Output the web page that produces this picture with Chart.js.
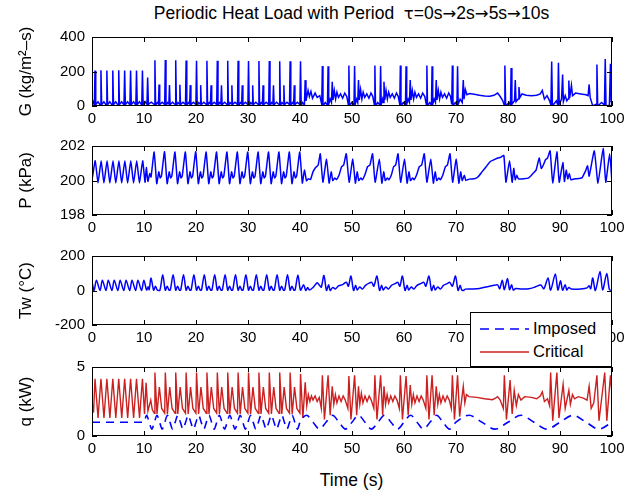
<!DOCTYPE html>
<html>
<head>
<meta charset="utf-8">
<script src="https://cdn.jsdelivr.net/npm/chart.js@4.4.1/dist/chart.umd.min.js"></script>
<style>
  body { margin: 0; width: 640px; height: 496px; background: #fff; overflow: hidden; position: relative;
         font-family: "Liberation Sans", Arial, sans-serif; }
  canvas { position: absolute; left: 0; }
  #title { position: absolute; left: 72px; width: 559px; top: 3px; text-align: center; font-size: 17.5px; color: #000; white-space: nowrap; }
  #title .sym { font-family: "DejaVu Sans", sans-serif; font-size: 16.5px; }
  #xlabel { position: absolute; left: 92px; width: 519px; top: 470px; text-align: center; font-size: 17.5px; color: #000; }
  #legend { position: absolute; left: 470px; top: 312px; width: 140px; height: 53px; border: 1px solid #000;
            background: #fff; z-index: 5; font-size: 16.5px; }
  .row { position: absolute; left: 0; height: 20px; }
  .row svg { position: absolute; left: 9px; top: 4px; }
  .row span { position: absolute; left: 62px; top: 0; white-space: nowrap; }
</style>
</head>
<body>
<div id="title">Periodic Heat Load with Period&nbsp; <span class="sym">τ</span>=0s<span class="sym">→</span>2s<span class="sym">→</span>5s<span class="sym">→</span>10s</div>
<canvas id="gChart" width="640" height="109" style="top:21px"></canvas>
<canvas id="pChart" width="640" height="109" style="top:130px"></canvas>
<canvas id="twChart" width="640" height="109" style="top:240px"></canvas>
<canvas id="qChart" width="640" height="109" style="top:351px"></canvas>
<div id="legend">
  <div class="row" style="top:6px">
    <svg width="50" height="12"><line x1="0" y1="6" x2="49" y2="6" stroke="#0000ff" stroke-width="1.5" stroke-dasharray="9,6"/></svg>
    <span>Imposed</span>
  </div>
  <div class="row" style="top:29px">
    <svg width="50" height="12"><line x1="0" y1="6" x2="49" y2="6" stroke="#cc2020" stroke-width="1.5"/></svg>
    <span>Critical</span>
  </div>
</div>
<div id="xlabel">Time (s)</div>
<script>
// tick labels
const xTicks = [0, 10, 20, 30, 40, 50, 60, 70, 80, 90, 100];
const gTicks = [0, 200, 400];
const pTicks = [198, 200, 202];
const twTicks = [-200, 0, 200];
const qTicks = [0, 5];

// mass flux G (kg/m2-s), [time, value]
const gFlux = [
  [0,40],[0.45,5],[0.58,205],[0.72,8],[1.15,25],
  [1.59,5],[1.72,207],[1.86,8],[2.29,25],
  [2.73,5],[2.86,206],[3.0,8],[3.43,25],
  [3.87,5],[4.0,206],[4.14,8],[4.57,25],
  [5.01,5],[5.14,207],[5.28,8],[5.71,25],
  [6.15,5],[6.28,206],[6.42,8],[6.85,25],
  [7.29,5],[7.42,206],[7.56,8],[7.99,25],
  [8.43,5],[8.56,206],[8.7,8],[9.13,25],
  [9.57,5],[9.7,206],[9.84,8],[10.2,25],
  [10.57,10],[10.7,165],[10.85,10],[11.4,22],
  [11.98,8],[12.1,265],[12.23,3],[12.55,20],[12.78,12],[12.9,125],[13.02,8],[13.5,22],
  [13.98,8],[14.1,266],[14.23,3],[14.55,20],[14.78,12],[14.9,122],[15.02,8],[15.5,22],
  [15.98,8],[16.1,265],[16.23,3],[16.55,20],[16.78,12],[16.9,123],[17.02,8],[17.5,22],
  [17.98,8],[18.1,264],[18.23,3],[18.55,20],[18.78,12],[18.9,121],[19.02,8],[19.5,22],
  [19.98,8],[20.1,262],[20.23,3],[20.55,20],[20.78,12],[20.9,121],[21.02,8],[21.5,22],
  [21.98,8],[22.1,262],[22.23,3],[22.55,20],[22.78,12],[22.9,120],[23.02,8],[23.5,22],
  [23.98,8],[24.1,262],[24.23,3],[24.55,20],[24.78,12],[24.9,120],[25.02,8],[25.5,22],
  [25.98,8],[26.1,262],[26.23,3],[26.55,20],[26.78,12],[26.9,120],[27.02,8],[27.5,22],
  [27.98,8],[28.1,262],[28.23,3],[28.55,20],[28.78,12],[28.9,120],[29.02,8],[29.5,22],
  [29.98,8],[30.1,261],[30.23,3],[30.55,20],[30.78,12],[30.9,120],[31.02,8],[31.5,22],
  [31.98,8],[32.1,261],[32.23,3],[32.55,20],[32.78,12],[32.9,120],[33.02,8],[33.5,22],
  [33.98,8],[34.1,261],[34.23,3],[34.55,20],[34.78,12],[34.9,120],[35.02,8],[35.5,22],
  [35.98,8],[36.1,260],[36.23,3],[36.55,20],[36.78,12],[36.9,120],[37.02,8],[37.5,22],
  [37.98,8],[38.1,260],[38.23,3],[38.55,20],[38.78,12],[38.9,120],[39.02,8],[39.5,22],
  [39.98,8],[40.1,260],[40.23,3],[40.5,20],[40.85,5],[41.0,150],[41.15,30],[41.55,90],[41.8,55],[42.1,85],
  [42.4,45],[42.9,75],[43.3,50],[43.8,60],[44.18,10],
  [44.3,232],[44.42,0],[44.85,20],[45.28,5],[45.4,230],[45.52,10],[45.8,40],[46.05,20],[46.2,140],[46.35,35],
  [46.6,90],[46.85,40],[47.1,80],[47.4,50],[47.8,70],[48.2,45],[48.6,75],[49.0,55],[49.28,10],
  [49.4,235],[49.52,0],[49.95,20],[50.38,5],[50.5,232],[50.62,10],[50.9,40],[51.1,20],[51.25,150],[51.4,35],
  [51.65,95],[51.9,40],[52.15,80],[52.45,50],[52.85,70],[53.25,45],[53.65,75],[54.0,55],[54.28,10],
  [54.4,235],[54.52,0],[54.95,20],[55.38,5],[55.5,232],[55.62,10],[55.9,40],[56.0,20],[56.15,140],[56.3,35],
  [56.55,90],[56.8,40],[57.05,80],[57.35,50],[57.75,70],[58.15,45],[58.55,75],[58.9,55],[59.18,10],
  [59.3,235],[59.42,0],[59.85,20],[60.28,5],[60.4,230],[60.52,10],[60.8,40],[61.05,20],[61.2,150],[61.35,35],
  [61.6,90],[61.85,40],[62.1,80],[62.4,50],[62.8,70],[63.2,45],[63.6,75],[64.0,55],[64.28,10],
  [64.4,235],[64.52,0],[64.95,20],[65.28,5],[65.4,230],[65.52,10],[65.8,40],[66.05,20],[66.2,150],[66.35,35],
  [66.6,90],[66.85,40],[67.1,80],[67.4,50],[67.8,70],[68.2,45],[68.6,75],[68.95,55],[69.18,10],
  [69.3,235],[69.42,0],[69.85,20],[70.18,5],[70.3,230],[70.42,10],[70.8,40],[71.2,20],[71.4,150],[71.55,40],
  [71.8,95],[72.1,65],[72.6,72],[73.5,68],[74.5,62],[75.5,58],[76.5,57],[77.3,62],[78.0,75],[78.5,55],[79.0,30],[79.28,5],
  [79.4,235],[79.55,0],[80.2,20],[80.48,5],[80.6,220],[80.75,10],[81.25,30],[81.4,150],[81.55,25],[81.95,40],
  [82.1,110],[82.3,50],[82.7,70],[83.5,62],[84.5,60],[85.5,62],[86.2,70],[86.6,90],[87.0,40],[87.5,60],[88.0,30],[88.25,5],
  [88.4,258],[88.55,0],[89.3,30],[89.58,5],[89.7,250],[89.85,10],[90.3,40],[90.5,183],[90.65,25],[91.0,60],
  [91.3,30],[91.55,40],[91.7,148],[91.85,45],[92.2,120],[92.4,60],[93.0,75],[94.0,70],[95.0,65],[95.4,60],
  [95.6,125],[95.8,50],[96.3,0],[96.95,10],[97.1,240],[97.25,0],[98.0,20],[98.55,5],[98.7,272],[98.85,0],
  [99.5,5],[99.7,245],[99.85,20],[100,150]
];

// pressure P (kPa), [time, value]
const pressure = [
  [0,200.0],[0.62,201.15],[1.15,199.85],[1.76,201.15],[2.29,199.85],[2.9,201.15],[3.43,199.85],[4.04,201.15],
  [4.57,199.85],[5.18,201.15],[5.71,199.85],[6.32,201.15],[6.85,199.85],[7.46,201.15],[7.99,199.85],[8.6,201.15],
  [9.13,199.85],[9.74,201.15],[10.2,199.9],[10.45,200.75],[10.75,199.95],[11.1,200.4],[11.35,200.2],
  [11.95,201.65],[12.45,199.82],[12.85,200.5],[13.1,200.15],[13.35,200.25],
  [13.95,201.67],[14.45,199.82],[14.85,200.5],[15.1,200.15],[15.35,200.25],
  [15.95,201.65],[16.45,199.82],[16.85,200.5],[17.1,200.15],[17.35,200.25],
  [17.95,201.65],[18.45,199.82],[18.85,200.5],[19.1,200.15],[19.35,200.25],
  [19.95,201.67],[20.45,199.82],[20.85,200.5],[21.1,200.15],[21.35,200.25],
  [21.95,201.65],[22.45,199.82],[22.85,200.5],[23.1,200.15],[23.35,200.25],
  [23.95,201.65],[24.45,199.82],[24.85,200.5],[25.1,200.15],[25.35,200.25],
  [25.95,201.65],[26.45,199.82],[26.85,200.5],[27.1,200.15],[27.35,200.25],
  [27.95,201.65],[28.45,199.82],[28.85,200.5],[29.1,200.15],[29.35,200.25],
  [29.95,201.65],[30.45,199.82],[30.85,200.5],[31.1,200.15],[31.35,200.25],
  [31.95,201.65],[32.45,199.82],[32.85,200.5],[33.1,200.15],[33.35,200.25],
  [33.95,201.65],[34.45,199.82],[34.85,200.5],[35.1,200.15],[35.35,200.25],
  [35.95,201.65],[36.45,199.82],[36.85,200.5],[37.1,200.15],[37.35,200.25],
  [37.95,201.65],[38.45,199.82],[38.85,200.5],[39.1,200.15],[39.35,200.25],
  [39.95,201.65],[40.45,199.85],[40.85,200.6],[41.25,199.98],[41.6,200.1],[42.0,200.05],[42.5,200.5],[43.0,200.75],
  [43.5,200.9],[43.9,201.55],[44.4,199.9],[45.1,201.25],[45.6,199.85],[46.0,200.5],[46.3,200.0],[46.7,200.15],
  [47.0,200.05],[47.5,200.3],[48.0,200.8],[48.4,200.9],[48.9,201.55],[49.45,199.9],[50.15,201.25],[50.65,199.85],
  [51.0,200.5],[51.3,200.0],[51.7,200.15],[52.0,200.05],[52.5,200.35],[53.0,200.8],[53.45,200.9],[53.95,201.55],
  [54.45,199.9],[55.25,201.25],[55.75,199.85],[56.1,200.5],[56.4,200.0],[56.8,200.15],[57.1,200.05],[57.6,200.35],
  [58.0,200.8],[58.4,200.9],[58.85,201.55],[59.35,199.9],[60.1,201.25],[60.6,199.85],[60.95,200.5],[61.25,200.0],
  [61.65,200.15],[61.95,200.05],[62.45,200.35],[62.95,200.8],[63.4,200.9],[63.9,201.55],[64.4,199.9],[65.15,201.25],
  [65.65,199.85],[66.0,200.5],[66.3,200.0],[66.7,200.15],[67.0,200.05],[67.5,200.35],[67.95,200.8],[68.35,200.9],
  [68.85,201.55],[69.35,199.9],[70.05,201.25],[70.55,199.85],[70.9,200.5],[71.2,200.0],[71.6,200.3],[71.9,200.0],
  [72.5,200.08],[73.5,200.1],[74.2,200.2],[75.0,200.5],[75.8,200.8],[76.6,201.1],[77.3,201.2],[78.0,201.3],
  [78.6,201.35],[79.2,201.45],[79.6,199.9],[80.3,201.15],[80.8,199.9],[81.1,200.7],[81.4,200.05],[81.7,200.3],
  [82.0,200.1],[83.0,200.1],[84.0,200.15],[84.8,200.4],[85.4,200.6],[86.0,201.3],[86.4,200.7],[86.8,200.9],
  [87.2,201.2],[87.6,201.3],[88.1,201.72],[88.6,199.85],[89.4,201.67],[89.85,199.9],[90.55,201.05],[90.85,199.95],
  [91.2,200.6],[91.5,200.1],[91.8,200.4],[92.1,200.05],[93.0,200.1],[94.2,200.15],[94.9,200.55],[95.3,200.85],
  [95.6,200.25],[96.6,201.72],[97.3,199.85],[98.3,201.85],[98.8,199.9],[99.55,201.55],[100,199.9]
];

// wall temperature Tw (C), [time, value]
const wallTemp = [
  [0,50],[0.4,0],[0.85,60],[1.55,0],[1.99,60],[2.69,0],[3.13,60],[3.83,0],[4.27,60],[4.97,0],[5.41,60],
  [6.11,0],[6.55,60],[7.25,0],[7.69,60],[8.39,0],[8.83,60],[9.53,0],[9.97,60],[10.5,3],[10.8,22],[11.0,5],
  [11.35,73],[11.85,2],[12.2,25],[12.55,3],
  [13.05,2],[13.6,91],[14.1,2],[14.45,25],[14.8,3],
  [15.05,2],[15.6,91],[16.1,2],[16.45,25],[16.8,3],
  [17.05,2],[17.6,91],[18.1,2],[18.45,25],[18.8,3],
  [19.05,2],[19.6,91],[20.1,2],[20.45,25],[20.8,3],
  [21.05,2],[21.6,91],[22.1,2],[22.45,25],[22.8,3],
  [23.05,2],[23.6,91],[24.1,2],[24.45,25],[24.8,3],
  [25.05,2],[25.6,91],[26.1,2],[26.45,25],[26.8,3],
  [27.05,2],[27.6,91],[28.1,2],[28.45,25],[28.8,3],
  [29.05,2],[29.6,91],[30.1,2],[30.45,25],[30.8,3],
  [31.05,2],[31.6,91],[32.1,2],[32.45,25],[32.8,3],
  [33.05,2],[33.6,91],[34.1,2],[34.45,25],[34.8,3],
  [35.05,2],[35.6,91],[36.1,2],[36.45,25],[36.8,3],
  [37.05,2],[37.6,91],[38.1,2],[38.45,25],[38.8,3],
  [39.05,2],[39.6,90],[40.1,2],[40.7,34],[41.1,0],[41.5,17],[41.8,3],[42.5,17],[43.3,45],[43.7,32],[44.1,20],
  [44.6,87],[45.1,0],[45.5,34],[45.8,0],[46.3,18],[46.8,9],[47.4,27],[48.2,34],[48.9,48],[49.3,25],
  [49.8,84],[50.3,0],[50.7,30],[51.0,3],[51.5,20],[52.0,8],[52.6,30],[53.3,43],[53.8,47],[54.2,25],
  [54.8,84],[55.3,0],[55.7,30],[56.0,3],[56.5,20],[57.0,8],[57.6,30],[58.3,40],[58.8,47],[59.2,25],
  [59.7,84],[60.2,0],[60.6,30],[60.9,3],[61.4,20],[61.9,8],[62.5,30],[63.2,40],[63.8,47],[64.2,25],
  [64.8,84],[65.3,0],[65.7,30],[66.0,3],[66.5,20],[67.0,8],[67.6,30],[68.3,40],[68.8,47],[69.3,25],
  [69.9,84],[70.4,0],[70.8,30],[71.1,3],[71.4,0],[71.8,8],[73.0,9],[74.5,12],[76.0,22],[77.3,30],[78.0,32],
  [78.4,10],[78.9,60],[79.3,5],[79.9,69],[80.3,5],[80.7,34],[81.0,3],[81.5,12],[82.5,9],[84.0,10],[85.2,20],
  [86.3,32],[86.9,10],[87.7,73],[88.2,2],[89.1,96],[89.6,3],[90.1,56],[90.5,2],[91.0,34],[91.3,3],[91.7,17],
  [92.2,8],[94.0,9],[95.2,15],[95.6,28],[95.9,10],[96.3,73],[96.8,0],[97.7,110],[98.2,3],[99.0,99],[99.5,5],[100,0]
];

// critical heat load q (kW), [time, value]
const qCritical = [
  [0,2.5],[0.3,1.7],[0.58,4.15],[1.16,1.3],[1.72,4.15],[2.3,1.3],[2.86,4.15],[3.44,1.3],[4.0,4.15],[4.58,1.3],
  [5.14,4.15],[5.72,1.3],[6.28,4.15],[6.86,1.3],[7.42,4.15],[8.0,1.3],[8.56,4.15],[9.14,1.3],[9.7,4.15],
  [10.1,1.6],[10.4,3.85],[10.75,1.8],[11.3,2.6],[11.6,1.9],[11.98,1.65],
  [12.1,4.6],[12.5,1.6],[12.95,3.55],[13.4,2.0],[13.98,1.65],
  [14.1,4.6],[14.5,1.6],[14.95,3.55],[15.4,2.0],[15.98,1.65],
  [16.1,4.6],[16.5,1.6],[16.95,3.55],[17.4,2.0],[17.98,1.65],
  [18.1,4.6],[18.5,1.6],[18.95,3.55],[19.4,2.0],[19.98,1.65],
  [20.1,4.6],[20.5,1.6],[20.95,3.55],[21.4,2.0],[21.98,1.65],
  [22.1,4.6],[22.5,1.6],[22.95,3.55],[23.4,2.0],[23.98,1.65],
  [24.1,4.6],[24.5,1.6],[24.95,3.55],[25.4,2.0],[25.98,1.65],
  [26.1,4.6],[26.5,1.6],[26.95,3.55],[27.4,2.0],[27.98,1.65],
  [28.1,4.6],[28.5,1.6],[28.95,3.55],[29.4,2.0],[29.98,1.65],
  [30.1,4.6],[30.5,1.6],[30.95,3.55],[31.4,2.0],[31.98,1.65],
  [32.1,4.6],[32.5,1.6],[32.95,3.55],[33.4,2.0],[33.98,1.65],
  [34.1,4.6],[34.5,1.6],[34.95,3.55],[35.4,2.0],[35.98,1.65],
  [36.1,4.6],[36.5,1.6],[36.95,3.55],[37.4,2.0],[37.98,1.65],
  [38.1,4.6],[38.5,1.6],[38.95,3.55],[39.4,2.0],[39.98,1.65],
  [40.1,4.5],[40.55,1.3],[41.0,3.9],[41.3,2.2],[41.6,3.0],[41.9,2.5],[42.2,2.9],[42.5,2.6],[42.9,2.9],[43.3,2.5],[43.7,2.8],
  [44.1,2.0],[44.3,4.4],[44.7,1.2],[45.4,4.4],[45.8,1.5],[46.2,3.6],[46.5,2.3],[46.8,3.0],[47.1,2.4],[47.5,2.9],[47.9,2.5],[48.3,2.9],[48.7,2.6],
  [49.2,2.0],[49.4,4.35],[49.8,1.2],[50.5,4.4],[50.9,1.5],[51.25,3.6],[51.5,2.3],[51.8,3.1],[52.1,2.4],[52.5,2.9],[52.9,2.5],[53.3,2.9],[53.7,2.6],
  [54.2,2.0],[54.4,4.4],[54.8,1.2],[55.5,4.4],[55.9,1.5],[56.15,3.6],[56.45,2.3],[56.75,3.0],[57.05,2.4],[57.45,2.9],[57.85,2.5],[58.25,2.9],[58.65,2.6],
  [59.1,2.0],[59.3,4.4],[59.7,1.2],[60.4,4.35],[60.8,1.5],[61.2,3.7],[61.5,2.3],[61.8,3.0],[62.1,2.4],[62.5,2.9],[62.9,2.5],[63.3,2.9],[63.7,2.6],
  [64.2,2.0],[64.4,4.4],[64.8,1.2],[65.4,4.4],[65.8,1.5],[66.2,3.6],[66.5,2.3],[66.8,3.0],[67.1,2.4],[67.5,2.9],[67.9,2.5],[68.3,2.9],[68.7,2.6],
  [69.1,2.0],[69.3,4.4],[69.7,1.2],[70.3,4.4],[70.7,1.4],[71.4,3.6],[71.7,2.4],[72.0,3.0],[72.5,2.85],[74.0,2.8],
  [75.5,2.7],[77.0,2.63],[77.6,2.75],[78.0,2.85],[78.5,2.6],[79.1,2.0],[79.3,4.4],[79.7,1.2],[80.4,4.05],[80.8,1.6],
  [81.2,3.3],[81.6,2.2],[82.0,3.0],[82.5,2.6],[83.2,2.85],[84.5,2.8],[85.5,2.7],[86.2,2.9],[86.6,3.2],[87.0,2.5],
  [87.6,2.7],[88.0,2.2],[88.2,4.6],[88.6,1.1],[89.4,4.6],[89.8,1.3],[90.6,3.75],[91.0,2.0],[91.7,3.3],[92.0,2.3],
  [92.4,3.0],[92.8,2.7],[93.5,2.85],[94.5,2.75],[95.2,2.6],[95.6,3.6],[96.0,2.0],[96.5,2.4],[97.1,4.4],[97.5,1.1],
  [98.6,4.6],[99.0,1.1],[99.7,4.4],[100,3.0]
];

// imposed heat load q (kW), [time, value]
const qImposed = [
  [0,1.0],[10,1.0],
  [10.5,1.5],[11,1.0],[11.5,0.5],[12,1.0],[12.5,1.5],[13,1.0],[13.5,0.5],[14,1.0],[14.5,1.5],[15,1.0],[15.5,0.5],
  [16,1.0],[16.5,1.5],[17,1.0],[17.5,0.5],[18,1.0],[18.5,1.5],[19,1.0],[19.5,0.5],[20,1.0],[20.5,1.5],[21,1.0],
  [21.5,0.5],[22,1.0],[22.5,1.5],[23,1.0],[23.5,0.5],[24,1.0],[24.5,1.5],[25,1.0],[25.5,0.5],[26,1.0],[26.5,1.5],
  [27,1.0],[27.5,0.5],[28,1.0],[28.5,1.5],[29,1.0],[29.5,0.5],[30,1.0],[30.5,1.5],[31,1.0],[31.5,0.5],[32,1.0],
  [32.5,1.5],[33,1.0],[33.5,0.5],[34,1.0],[34.5,1.5],[35,1.0],[35.5,0.5],[36,1.0],[36.5,1.5],[37,1.0],[37.5,0.5],
  [38,1.0],[38.5,1.5],[39,1.0],[39.5,0.5],[40,1.0],
  [41.25,1.5],[42.5,1.0],[43.75,0.5],[45,1.0],[46.25,1.5],[47.5,1.0],[48.75,0.5],[50,1.0],[51.25,1.5],[52.5,1.0],
  [53.75,0.5],[55,1.0],[56.25,1.5],[57.5,1.0],[58.75,0.5],[60,1.0],[61.25,1.5],[62.5,1.0],[63.75,0.5],[65,1.0],
  [66.25,1.5],[67.5,1.0],[68.75,0.5],[70,1.0],
  [72.5,1.5],[75,1.0],[77.5,0.5],[80,1.0],[82.5,1.5],[85,1.0],[87.5,0.5],[90,1.0],[92.5,1.5],[95,1.0],[97.5,0.5],[100,1.0]
];

Chart.defaults.font.family = '"Liberation Sans", Arial, sans-serif';
Chart.defaults.color = '#000';

// box around the axes with inward tick marks (matlab look)
const boxPlugin = {
  id: 'box',
  afterDraw(chart) {
    const { ctx, chartArea: a, scales } = chart;
    ctx.save();
    ctx.strokeStyle = '#000';
    ctx.lineWidth = 1;
    ctx.strokeRect(a.left + 0.5, a.top + 0.5, a.right - a.left - 1, a.bottom - a.top - 1);
    ctx.beginPath();
    scales.x.ticks.forEach(t => {
      const px = Math.round(scales.x.getPixelForValue(t.value)) + 0.5;
      ctx.moveTo(px, a.bottom); ctx.lineTo(px, a.bottom - 5);
      ctx.moveTo(px, a.top); ctx.lineTo(px, a.top + 5);
    });
    scales.y.ticks.forEach(t => {
      const py = Math.round(scales.y.getPixelForValue(t.value)) + 0.5;
      ctx.moveTo(a.left, py); ctx.lineTo(a.left + 5, py);
      ctx.moveTo(a.right, py); ctx.lineTo(a.right - 5, py);
    });
    ctx.stroke();
    ctx.restore();
  }
};

function toPoints(arr) {
  return arr.map(([x, y]) => ({ x: x, y: y }));
}

function makePanel(id, datasets, yTicks, yTitle) {
  new Chart(document.getElementById(id), {
    type: 'line',
    data: { datasets: datasets },
    options: {
      responsive: false,
      animation: false,
      layout: { padding: { top: 10, right: 28, left: 0, bottom: 0 } },
      plugins: { legend: { display: false }, tooltip: { enabled: false } },
      elements: { point: { radius: 0 } },
      scales: {
        x: {
          type: 'linear', min: xTicks[0], max: xTicks[xTicks.length - 1],
          afterBuildTicks: s => { s.ticks = xTicks.map(v => ({ value: v })); },
          ticks: { font: { size: 15 }, padding: 4, maxRotation: 0 },
          grid: { display: false, drawTicks: false },
          border: { display: false },
          afterFit: s => { s.height = 24; }
        },
        y: {
          min: yTicks[0], max: yTicks[yTicks.length - 1],
          afterBuildTicks: s => { s.ticks = yTicks.map(v => ({ value: v })); },
          ticks: { font: { size: 15 }, padding: 7 },
          grid: { display: false, drawTicks: false },
          border: { display: false },
          title: { display: true, text: yTitle, font: { size: 17 }, padding: { top: 16, bottom: 0 } },
          afterFit: s => { s.width = 92; }
        }
      }
    },
    plugins: [boxPlugin]
  });
}

const blue = '#0000ff';
const red = '#cc2020';

makePanel('gChart', [
  { data: toPoints(gFlux), borderColor: blue, borderWidth: 1.5, tension: 0 }
], gTicks, 'G (kg/m²–s)');

makePanel('pChart', [
  { data: toPoints(pressure), borderColor: blue, borderWidth: 1.5, tension: 0.15 }
], pTicks, 'P (kPa)');

makePanel('twChart', [
  { data: toPoints(wallTemp), borderColor: blue, borderWidth: 1.5, tension: 0.3 }
], twTicks, 'Tw (°C)');

makePanel('qChart', [
  { label: 'Imposed', data: toPoints(qImposed), borderColor: blue, borderWidth: 1.6, borderDash: [8, 6],
    cubicInterpolationMode: 'monotone' },
  { label: 'Critical', data: toPoints(qCritical), borderColor: red, borderWidth: 1.4, tension: 0 }
], qTicks, 'q (kW)');
</script>
</body>
</html>
